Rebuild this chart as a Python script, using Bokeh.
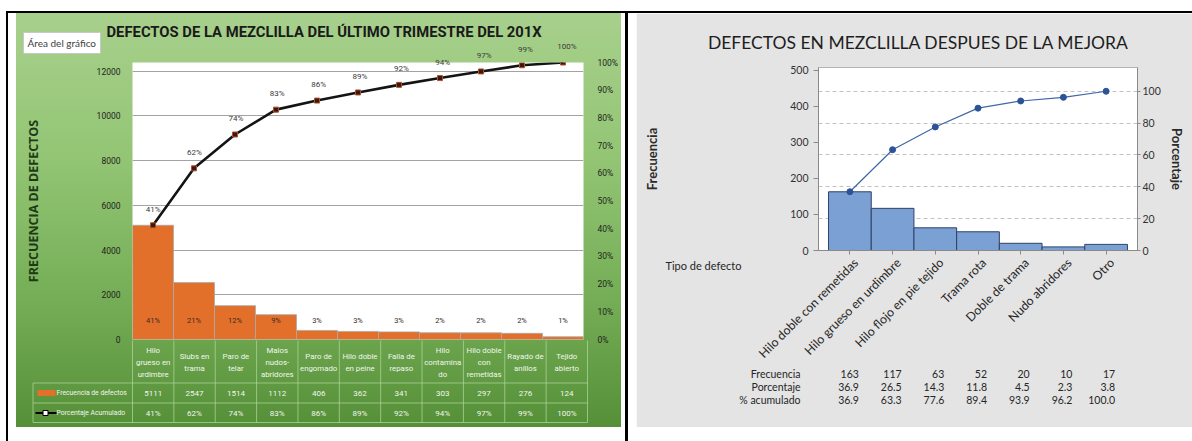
import numpy as np
from bokeh.plotting import figure
from bokeh.models import (ColumnDataSource, Range1d, LinearAxis, FixedTicker,
                          NumeralTickFormatter, LabelSet, Spacer, Grid)
from bokeh.layouts import row, column
from bokeh.core.properties import value
from bokeh.embed import file_html
from bokeh.resources import INLINE

# ---------------- data: before (left chart) ----------------
title_before = "DEFECTOS DE LA MEZCLILLA DEL ÚLTIMO TRIMESTRE DEL 201X"
categories_before = ["Hilo\ngrueso en\nurdimbre", "Slubs en\ntrama", "Paro de\ntelar",
                     "Malos\nnudos-\nabridores", "Paro de\nengomado", "Hilo doble\nen peine",
                     "Falla de\nrepaso", "Hilo\ncontamina\ndo", "Hilo doble\ncon\nremetidas",
                     "Rayado de\nanillos", "Tejido\nabierto"]
freq_before = [5111, 2547, 1514, 1112, 406, 362, 341, 303, 297, 276, 124]
share_labels_before = ["41%", "21%", "12%", "9%", "3%", "3%", "3%", "2%", "2%", "2%", "1%"]
cum_labels_before = ["41%", "62%", "74%", "83%", "86%", "89%", "92%", "94%", "97%", "99%", "100%"]
freq_ticks_before = [0, 2000, 4000, 6000, 8000, 10000, 12000]
pct_ticks_before = [0, 0.1, 0.2, 0.3, 0.4, 0.5, 0.6, 0.7, 0.8, 0.9, 1.0]

# ---------------- data: after (right chart) ----------------
title_after = "DEFECTOS EN MEZCLILLA DESPUES DE LA MEJORA"
categories_after = ["Hilo doble con remetidas", "Hilo grueso en urdimbre", "Hilo flojo en pie tejido",
                    "Trama rota", "Doble de trama", "Nudo abridores", "Otro"]
freq_after = [163, 117, 63, 52, 20, 10, 17]
pct_after = [36.9, 26.5, 14.3, 11.8, 4.5, 2.3, 3.8]
cum_after = [36.9, 63.3, 77.6, 89.4, 93.9, 96.2, 100.0]
freq_ticks_after = [0, 100, 200, 300, 400, 500]
pct_ticks_after = [0, 20, 40, 60, 80, 100]
freq_max_after = 508

ROBOTO_S = "Roboto"
LATO_S = "Lato"
OPEN_S = "Open Sans"
ROBOTO = value(ROBOTO_S)
LATO = value(LATO_S)


def overlay_style(x, y):
    return {"position": "absolute", "left": f"{x}px", "top": f"{y}px", "z-index": "5"}


# ================= LEFT PANEL (page px: x 16..621, y 13..427) =================
n_b = len(freq_before)
xb = np.arange(n_b)
total_b = sum(freq_before)
cum_b = np.cumsum(freq_before) / total_b

LP_X, LP_Y, LP_W, LP_H = 16, 13, 605, 414
A_FX0, A_FX1, A_FY0, A_FY1 = 132, 587, 62, 339      # frame edges, page px
ppu_A = (A_FX1 - A_FX0) / n_b
ppy_A = (A_FY1 - A_FY0) / 1.0                          # px per 100 %

A = figure(width=LP_W, height=LP_H, x_range=Range1d(-0.5, n_b - 0.5), y_range=Range1d(0, total_b),
           x_axis_type=None, min_border_left=A_FX0 - LP_X, min_border_right=LP_X + LP_W - A_FX1,
           min_border_top=A_FY0 - LP_Y, min_border_bottom=LP_Y + LP_H - A_FY1,
           toolbar_location=None, output_backend="svg",
           background_fill_color="white", border_fill_color=None, outline_line_color=None,
           styles={"background": "linear-gradient(180deg, #a7d08c 0%, #93c574 35%, "
                                 "#74ad55 70%, #558f37 100%)"})
A.extra_y_ranges = {"pct": Range1d(0, 1)}

ya = A.yaxis[0]
ya.ticker = FixedTicker(ticks=freq_ticks_before)
ya.axis_line_color = None
ya.major_tick_line_color = None
ya.minor_tick_line_color = None
ya.major_label_standoff = 6
ya.major_label_text_font = ROBOTO_S
ya.major_label_text_font_size = "8.5px"
ya.major_label_text_color = "#1e1e1e"
ya.axis_label = "FRECUENCIA DE DEFECTOS"
ya.axis_label_text_font = OPEN_S
ya.axis_label_text_font_style = "bold"
ya.axis_label_text_font_size = "12.5px"
ya.axis_label_text_color = "#1f3a17"
ya.axis_label_standoff = 52
A.ygrid.grid_line_color = "#a3a3a3"
A.ygrid.grid_line_width = 1.2

ra = LinearAxis(y_range_name="pct", ticker=FixedTicker(ticks=pct_ticks_before),
                formatter=NumeralTickFormatter(format="0%"))
ra.axis_line_color = None
ra.major_tick_line_color = None
ra.minor_tick_line_color = None
ra.major_label_standoff = 8
ra.major_label_text_font = ROBOTO_S
ra.major_label_text_font_size = "8.5px"
ra.major_label_text_color = "#1e1e1e"
A.add_layout(ra, "right")

A.vbar(x=xb, top=freq_before, width=1.0, fill_color="#E2702B", line_color="#a9a9a9", line_width=0.8)
A.line(xb, cum_b, y_range_name="pct", line_color="#141414", line_width=2.6)
A.scatter(xb, cum_b, y_range_name="pct", marker="square", size=5, fill_color="#3a1a10",
          line_color="#b0502a")

src_b = ColumnDataSource(dict(x=xb, y0=np.zeros(n_b), share=share_labels_before))
A.add_layout(LabelSet(source=src_b, x="x", y="y0", text="share", y_offset=19,
                      text_align="center", text_baseline="middle", text_font=ROBOTO,
                      text_font_size="7.5px", text_color="#3a2a20"))

# ---- overlay for the left panel: same x scale as A, y scale = A's percent axis
OL_x0 = -0.5 - (A_FX0 - LP_X) / ppu_A
OL_x1 = n_b - 0.5 + (LP_X + LP_W - A_FX1) / ppu_A
OL_y0 = -(LP_Y + LP_H - A_FY1) / ppy_A
OL_y1 = 1 + (A_FY0 - LP_Y) / ppy_A


def olx(px):
    return OL_x0 + (px - LP_X) / ppu_A


def oly(py):
    return OL_y1 - (py - LP_Y) / ppy_A


OL = figure(width=LP_W, height=LP_H, x_range=Range1d(OL_x0, OL_x1), y_range=Range1d(OL_y0, OL_y1),
            x_axis_type=None, y_axis_type=None, min_border=0, min_border_left=0,
            min_border_right=0, min_border_top=0, min_border_bottom=0,
            toolbar_location=None, output_backend="svg", background_fill_color=None,
            border_fill_color=None, outline_line_color=None, styles=overlay_style(LP_X, LP_Y))

# title and the "Área del gráfico" tag
OL.text(x=[olx(106)], y=[oly(31)], text=[title_before], text_align="left", text_baseline="middle",
        text_font=ROBOTO, text_font_style="bold", text_font_size="14.8px", text_color="#1a1a1a")
OL.quad(left=[olx(23)], right=[olx(100)], top=[oly(32)], bottom=[oly(53)], fill_color="white",
        line_color="#c8c8c8", line_width=1)
OL.text(x=[olx(27)], y=[oly(42.5)], text=["Área del gráfico"], text_align="left",
        text_baseline="middle", text_font=LATO, text_font_size="10px", text_color="#404040")

# cumulative labels above the points
OL.text(x=xb, y=cum_b + 16 / ppy_A, text=cum_labels_before, text_align="center",
        text_baseline="middle", text_font=ROBOTO, text_font_size="8px", text_color="#3a3a3a")

# data table under the chart
edges = np.arange(n_b + 1) - 0.5
GRIDC = "#b4d9a0"
OL.segment(x0=edges, y0=np.full(n_b + 1, oly(340)), x1=edges, y1=np.full(n_b + 1, oly(422)),
           line_color=GRIDC, line_width=1, line_alpha=0.7)
row_lines = [oly(382.5), oly(402.5), oly(422)]
OL.segment(x0=[olx(32.5)] * 3, y0=row_lines, x1=[n_b - 0.5] * 3, y1=row_lines,
           line_color=GRIDC, line_width=1, line_alpha=0.7)
OL.segment(x0=[olx(32.5)], y0=[oly(382.5)], x1=[olx(32.5)], y1=[oly(422)],
           line_color=GRIDC, line_width=1, line_alpha=0.7)

TXT = "#f2f6ee"
OL.text(x=xb, y=np.full(n_b, oly(362)), text=categories_before, text_align="center",
        text_baseline="middle", text_font=ROBOTO, text_font_size="7.8px", text_color=TXT,
        text_line_height=1.3)
OL.text(x=xb, y=np.full(n_b, oly(392.5)), text=[str(v) for v in freq_before], text_align="center",
        text_baseline="middle", text_font=ROBOTO, text_font_size="8px", text_color=TXT)
OL.text(x=xb, y=np.full(n_b, oly(412.5)), text=cum_labels_before, text_align="center",
        text_baseline="middle", text_font=ROBOTO, text_font_size="8px", text_color=TXT)
OL.text(x=[olx(56), olx(56)], y=[oly(392.5), oly(412.5)],
        text=["Frecuencia de defectos", "Porcentaje Acumulado"], text_align="left",
        text_baseline="middle", text_font=ROBOTO, text_font_size="6.8px", text_color=TXT)
OL.quad(left=[olx(37)], right=[olx(55)], top=[oly(389.5)], bottom=[oly(395.5)],
        fill_color="#E2702B", line_color=None)
OL.segment(x0=[olx(35)], y0=[oly(412.5)], x1=[olx(56)], y1=[oly(412.5)], line_color="black",
           line_width=2)
OL.scatter(x=[olx(45)], y=[oly(412.5)], marker="square", size=5, fill_color="white",
           line_color="black")

# ================= RIGHT PANEL (page px: x 636..1192, y 13..427) =================
n_a = len(freq_after)
xa = np.arange(n_a)
total_a = sum(freq_after)

RP_X, RP_Y, RP_W, RP_H = 636, 13, 556, 414
C_FX0, C_FX1, C_FY0, C_FY1 = 818, 1137, 67, 250
pad_C = 0.235
ppu_C = (C_FX1 - C_FX0) / (n_a + 2 * pad_C)
ppy_C = (C_FY1 - C_FY0) / freq_max_after

C = figure(width=RP_W, height=RP_H, x_range=Range1d(-0.5 - pad_C, n_a - 0.5 + pad_C),
           y_range=Range1d(0, freq_max_after), min_border_left=C_FX0 - RP_X,
           min_border_right=RP_X + RP_W - C_FX1, min_border_top=C_FY0 - RP_Y,
           min_border_bottom=RP_Y + RP_H - C_FY1, toolbar_location=None, output_backend="svg",
           background_fill_color="white", border_fill_color="#e4e4e4",
           outline_line_color="#b4b4b4")
C.extra_y_ranges = {"pct": Range1d(0, freq_max_after / total_a * 100)}
C.xgrid.visible = False
C.ygrid.visible = False

xa_ax = C.xaxis[0]
xa_ax.ticker = FixedTicker(ticks=list(xa))
xa_ax.major_label_overrides = {int(i): "" for i in xa}
xa_ax.major_tick_out = 4
xa_ax.major_tick_in = 0
xa_ax.minor_tick_line_color = None
xa_ax.axis_line_color = "#8a8a8a"
xa_ax.major_tick_line_color = "#8a8a8a"

yl = C.yaxis[0]
yl.ticker = FixedTicker(ticks=freq_ticks_after)
yl.major_tick_out = 5
yl.major_tick_in = 0
yl.minor_tick_line_color = None
yl.axis_line_color = "#8a8a8a"
yl.major_tick_line_color = "#8a8a8a"
yl.major_label_text_font = LATO_S
yl.major_label_text_font_size = "10.5px"
yl.major_label_text_color = "#333333"
yl.major_label_standoff = 5
yl.axis_label = "Frecuencia"
yl.axis_label_text_font = LATO_S
yl.axis_label_text_font_style = "bold"
yl.axis_label_text_font_size = "13px"
yl.axis_label_text_color = "#2a2a2a"
yl.axis_label_standoff = 127

yr = LinearAxis(y_range_name="pct", ticker=FixedTicker(ticks=pct_ticks_after))
yr.major_tick_out = 3
yr.major_tick_in = 0
yr.minor_tick_line_color = None
yr.axis_line_color = "#8a8a8a"
yr.major_tick_line_color = "#8a8a8a"
yr.major_label_text_font = LATO_S
yr.major_label_text_font_size = "10.5px"
yr.major_label_text_color = "#333333"
yr.major_label_standoff = 2
yr.axis_label = "Porcentaje"
yr.axis_label_text_font = LATO_S
yr.axis_label_text_font_style = "bold"
yr.axis_label_text_font_size = "13px"
yr.axis_label_text_color = "#2a2a2a"
yr.axis_label_standoff = 5
C.add_layout(yr, "right")

C.add_layout(Grid(dimension=1, ticker=FixedTicker(ticks=pct_ticks_after[1:]), y_range_name="pct",
                  grid_line_color="#c2c2c2", grid_line_dash="4 3", grid_line_width=1))

C.vbar(x=xa, top=freq_after, width=1.0, fill_color="#7ba0d4", line_color="#2d4266", line_width=1)
C.line(xa, cum_after, y_range_name="pct", line_color="#3f66a8", line_width=1.2)
C.scatter(xa, cum_after, y_range_name="pct", marker="circle", size=6, fill_color="#2b5497",
          line_color="#2b5497")

# ---- overlay for the right panel: same x scale as C, y scale = C's frequency axis
OR_x0 = -0.5 - pad_C - (C_FX0 - RP_X) / ppu_C
OR_x1 = n_a - 0.5 + pad_C + (RP_X + RP_W - C_FX1) / ppu_C
OR_y0 = -(RP_Y + RP_H - C_FY1) / ppy_C
OR_y1 = freq_max_after + (C_FY0 - RP_Y) / ppy_C


def orx(px):
    return OR_x0 + (px - RP_X) / ppu_C


def ory(py):
    return OR_y1 - (py - RP_Y) / ppy_C


OR = figure(width=RP_W, height=RP_H, x_range=Range1d(OR_x0, OR_x1), y_range=Range1d(OR_y0, OR_y1),
            x_axis_type=None, y_axis_type=None, min_border=0, min_border_left=0,
            min_border_right=0, min_border_top=0, min_border_bottom=0,
            toolbar_location=None, output_backend="svg", background_fill_color=None,
            border_fill_color=None, outline_line_color=None, styles=overlay_style(RP_X, RP_Y))

INK = "#262626"
OR.text(x=[orx(918)], y=[ory(42)], text=[title_after], text_align="center", text_baseline="middle",
        text_font=LATO, text_font_size="17.5px", text_color="#1e1e1e")
OR.text(x=xa + 6 / ppu_C, y=np.full(n_a, ory(260)), text=categories_after, angle=np.pi / 4,
        text_align="right", text_baseline="middle", text_font=LATO, text_font_size="12.3px",
        text_color=INK)
OR.text(x=[orx(665)], y=[ory(265)], text=["Tipo de defecto"], text_align="left",
        text_baseline="middle", text_font=LATO, text_font_size="11px", text_color=INK)
rows_y = [373, 386, 399]
OR.text(x=[orx(800)] * 3, y=[ory(v) for v in rows_y], text=["Frecuencia", "Porcentaje", "% acumulado"],
        text_align="right", text_baseline="middle", text_font=LATO, text_font_size="10.5px",
        text_color=INK)
for vals, py in ((freq_after, 373), (pct_after, 386), (cum_after, 399)):
    txt = [str(v) for v in vals] if vals is freq_after else [f"{v:.1f}" for v in vals]
    OR.text(x=xa + 9 / ppu_C, y=np.full(n_a, ory(py)), text=txt, text_align="right",
            text_baseline="middle", text_font=LATO, text_font_size="10.5px", text_color=INK)

# ================= page frame (table borders); the page itself has no margin =================
BLACK = {"background-color": "black"}
layout = column(
    Spacer(width=1192, height=11),
    row(Spacer(width=6, height=2), Spacer(width=1186, height=2, styles=BLACK), spacing=0),
    row(Spacer(width=6, height=10), Spacer(width=2, height=428, styles=BLACK),
        Spacer(width=8, height=10), column(A), Spacer(width=4, height=10),
        Spacer(width=3, height=428, styles=BLACK), Spacer(width=8, height=10), column(C),
        spacing=0),
    spacing=0)

open("out.html", "w").write(file_html([layout, OL, OR], INLINE, "Pareto mezclilla"))
